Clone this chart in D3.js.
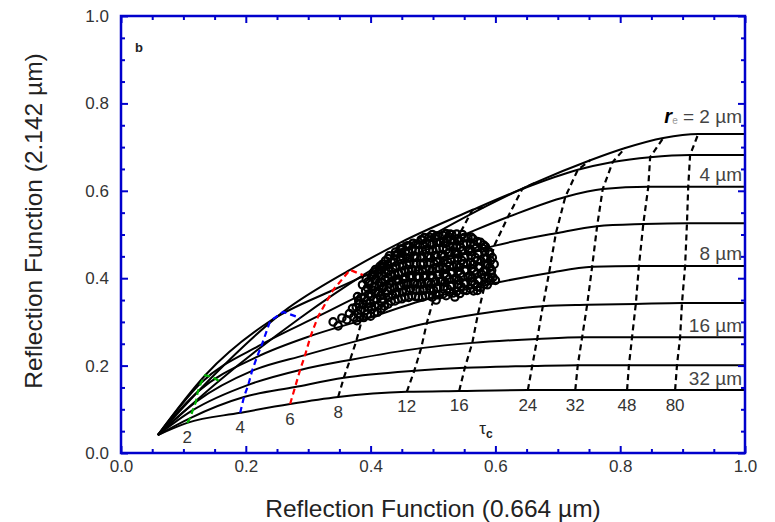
<!DOCTYPE html>
<html>
<head>
<meta charset="utf-8">
<script src="https://cdn.jsdelivr.net/npm/d3@7"></script>
<style>
  html, body { margin: 0; padding: 0; background: #fff; }
  svg { display: block; font-family: "Liberation Sans", Arial, sans-serif; }
</style>
</head>
<body>
<script>
// Optical thickness values along each effective-radius curve (0 = curve origin, 100 = plateau to frame)
const tauGrid = [0, 2, 4, 6, 8, 12, 16, 24, 32, 48, 80, 100];
const tauLabels = [2, 4, 6, 8, 12, 16, 24, 32, 48, 80];
// Effective radii (µm), one curve each
const radii = [2, 3, 4, 6, 8, 12, 16, 24, 32];
const radiusLabels = [2, 4, 8, 16, 32];

// Reflection function at 0.664 µm, rows follow radii, columns follow tauGrid
const r066 = [
  [0.059, 0.157, 0.287, 0.388, 0.471, 0.583, 0.663, 0.752, 0.808, 0.869, 0.925, 1.0],
  [0.059, 0.146, 0.260, 0.367, 0.447, 0.563, 0.643, 0.732, 0.788, 0.848, 0.912, 1.0],
  [0.059, 0.135, 0.239, 0.340, 0.423, 0.540, 0.620, 0.712, 0.772, 0.845, 0.909, 1.0],
  [0.059, 0.128, 0.226, 0.316, 0.399, 0.516, 0.598, 0.697, 0.763, 0.837, 0.907, 1.0],
  [0.059, 0.123, 0.218, 0.304, 0.386, 0.502, 0.583, 0.686, 0.755, 0.830, 0.904, 1.0],
  [0.059, 0.120, 0.210, 0.295, 0.377, 0.490, 0.572, 0.676, 0.747, 0.825, 0.899, 1.0],
  [0.059, 0.115, 0.204, 0.287, 0.367, 0.481, 0.563, 0.667, 0.739, 0.819, 0.896, 1.0],
  [0.059, 0.111, 0.197, 0.279, 0.357, 0.470, 0.551, 0.659, 0.732, 0.814, 0.891, 1.0],
  [0.059, 0.106, 0.191, 0.271, 0.348, 0.458, 0.542, 0.652, 0.728, 0.811, 0.888, 1.0]
];

// Reflection function at 2.142 µm, same layout
const r214 = [
  [0.041, 0.165, 0.309, 0.407, 0.476, 0.563, 0.618, 0.670, 0.698, 0.721, 0.730, 0.730],
  [0.041, 0.174, 0.323, 0.419, 0.481, 0.556, 0.604, 0.648, 0.666, 0.677, 0.682, 0.682],
  [0.041, 0.178, 0.302, 0.373, 0.426, 0.494, 0.540, 0.586, 0.604, 0.609, 0.609, 0.609],
  [0.041, 0.160, 0.249, 0.313, 0.371, 0.439, 0.474, 0.503, 0.519, 0.524, 0.526, 0.526],
  [0.041, 0.140, 0.220, 0.268, 0.304, 0.357, 0.384, 0.412, 0.426, 0.428, 0.428, 0.428],
  [0.041, 0.117, 0.188, 0.224, 0.256, 0.297, 0.318, 0.336, 0.339, 0.341, 0.343, 0.343],
  [0.041, 0.098, 0.156, 0.190, 0.213, 0.240, 0.252, 0.261, 0.265, 0.265, 0.265, 0.265],
  [0.041, 0.080, 0.128, 0.151, 0.172, 0.188, 0.195, 0.199, 0.201, 0.201, 0.201, 0.201],
  [0.041, 0.069, 0.092, 0.112, 0.128, 0.140, 0.142, 0.144, 0.144, 0.144, 0.144, 0.144]
];

// Measured pixels: [R(0.664 µm), R(2.142 µm)]
const observed = [
  [0.340,0.300],[0.348,0.291],[0.354,0.309],[0.362,0.305],[0.366,0.319],[0.371,0.331],[0.373,0.311],
  [0.378,0.303],[0.380,0.318],[0.377,0.334],[0.381,0.348],[0.379,0.358],
  [0.389,0.310],[0.391,0.326],[0.388,0.341],[0.390,0.355],[0.392,0.371],[0.387,0.385],[0.393,0.398],
  [0.400,0.313],[0.402,0.329],[0.399,0.343],[0.401,0.359],[0.403,0.373],[0.398,0.389],[0.402,0.403],[0.405,0.414],
  [0.411,0.322],[0.413,0.338],[0.410,0.352],[0.412,0.368],[0.414,0.382],[0.409,0.397],[0.412,0.412],[0.415,0.427],
  [0.422,0.336],[0.420,0.352],[0.424,0.366],[0.421,0.381],[0.423,0.397],[0.425,0.411],[0.420,0.426],[0.424,0.440],
  [0.433,0.347],[0.435,0.362],[0.431,0.378],[0.434,0.392],[0.432,0.408],[0.436,0.422],[0.433,0.437],[0.430,0.451],
  [0.444,0.352],[0.442,0.368],[0.446,0.382],[0.443,0.398],[0.445,0.412],[0.441,0.428],[0.447,0.442],[0.444,0.457],[0.449,0.465],
  [0.455,0.357],[0.457,0.372],[0.453,0.388],[0.456,0.402],[0.454,0.418],[0.458,0.432],[0.452,0.447],[0.456,0.462],[0.459,0.474],
  [0.466,0.360],[0.464,0.376],[0.468,0.390],[0.465,0.406],[0.467,0.420],[0.463,0.436],[0.469,0.450],[0.466,0.466],[0.468,0.480],
  [0.477,0.357],[0.479,0.373],[0.475,0.387],[0.478,0.403],[0.476,0.417],[0.480,0.433],[0.474,0.447],[0.478,0.463],[0.476,0.477],[0.481,0.488],
  [0.488,0.360],[0.486,0.375],[0.490,0.391],[0.487,0.405],[0.489,0.421],[0.485,0.435],[0.491,0.451],[0.488,0.465],[0.490,0.480],[0.486,0.493],
  [0.499,0.357],[0.501,0.373],[0.497,0.387],[0.500,0.403],[0.498,0.417],[0.502,0.433],[0.496,0.447],[0.500,0.463],[0.498,0.477],[0.503,0.492],[0.499,0.500],
  [0.510,0.362],[0.508,0.378],[0.512,0.392],[0.509,0.408],[0.511,0.422],[0.507,0.438],[0.513,0.452],[0.510,0.468],[0.512,0.482],[0.508,0.497],
  [0.521,0.360],[0.523,0.376],[0.519,0.390],[0.522,0.406],[0.520,0.420],[0.524,0.436],[0.518,0.450],[0.522,0.466],[0.520,0.480],[0.525,0.495],[0.521,0.502],
  [0.532,0.366],[0.530,0.382],[0.534,0.396],[0.531,0.412],[0.533,0.426],[0.529,0.442],[0.535,0.456],[0.532,0.472],[0.534,0.486],[0.530,0.500],
  [0.543,0.365],[0.545,0.381],[0.541,0.395],[0.544,0.411],[0.542,0.425],[0.546,0.441],[0.540,0.455],[0.544,0.471],[0.542,0.485],[0.547,0.500],
  [0.554,0.372],[0.552,0.388],[0.556,0.402],[0.553,0.418],[0.555,0.432],[0.551,0.448],[0.557,0.462],[0.554,0.478],[0.556,0.492],
  [0.565,0.371],[0.567,0.387],[0.563,0.401],[0.566,0.417],[0.564,0.431],[0.568,0.447],[0.562,0.461],[0.566,0.477],[0.564,0.490],
  [0.576,0.379],[0.574,0.395],[0.578,0.409],[0.575,0.425],[0.577,0.439],[0.573,0.455],[0.579,0.469],[0.576,0.482],
  [0.587,0.385],[0.589,0.401],[0.585,0.415],[0.588,0.431],[0.586,0.445],[0.590,0.460],[0.584,0.472],
  [0.596,0.402],[0.594,0.418],[0.598,0.432],[0.595,0.447],
  [0.535,0.357],[0.505,0.350],[0.600,0.395],[0.571,0.372],
  [0.383,0.311],[0.384,0.327],[0.382,0.341],[0.385,0.356],
  [0.395,0.318],[0.396,0.334],[0.394,0.348],[0.397,0.364],[0.395,0.378],[0.396,0.392],
  [0.406,0.320],[0.407,0.336],[0.405,0.350],[0.408,0.366],[0.406,0.380],[0.407,0.396],[0.405,0.408],[0.408,0.420],
  [0.417,0.330],[0.418,0.346],[0.416,0.360],[0.419,0.376],[0.417,0.390],[0.418,0.406],[0.416,0.419],[0.419,0.432],
  [0.428,0.341],[0.429,0.357],[0.427,0.371],[0.430,0.387],[0.428,0.401],[0.429,0.417],[0.427,0.431],[0.428,0.445],
  [0.439,0.348],[0.440,0.364],[0.438,0.378],[0.441,0.394],[0.439,0.408],[0.440,0.424],[0.438,0.437],[0.439,0.452],[0.440,0.460],
  [0.450,0.353],[0.451,0.369],[0.449,0.383],[0.452,0.399],[0.450,0.413],[0.451,0.429],[0.449,0.443],[0.450,0.458],[0.451,0.468],
  [0.461,0.356],[0.462,0.372],[0.460,0.386],[0.463,0.402],[0.461,0.416],[0.462,0.432],[0.460,0.446],[0.461,0.461],[0.462,0.474],
  [0.472,0.358],[0.473,0.374],[0.471,0.388],[0.474,0.404],[0.472,0.418],[0.473,0.434],[0.471,0.448],[0.472,0.463],[0.473,0.478],
  [0.483,0.357],[0.484,0.373],[0.482,0.387],[0.485,0.403],[0.483,0.417],[0.484,0.433],[0.482,0.447],[0.483,0.462],[0.484,0.477],[0.483,0.488],
  [0.494,0.360],[0.495,0.376],[0.493,0.390],[0.496,0.406],[0.494,0.420],[0.495,0.436],[0.493,0.450],[0.494,0.465],[0.495,0.480],[0.494,0.494],
  [0.505,0.362],[0.506,0.378],[0.504,0.392],[0.507,0.408],[0.505,0.422],[0.506,0.438],[0.504,0.452],[0.505,0.467],[0.506,0.482],[0.505,0.496],
  [0.516,0.364],[0.517,0.380],[0.515,0.394],[0.518,0.410],[0.516,0.424],[0.517,0.440],[0.515,0.454],[0.516,0.469],[0.517,0.484],[0.516,0.498],
  [0.527,0.368],[0.528,0.384],[0.526,0.398],[0.529,0.414],[0.527,0.428],[0.528,0.444],[0.526,0.458],[0.527,0.473],[0.528,0.488],[0.527,0.501],
  [0.538,0.370],[0.539,0.386],[0.537,0.400],[0.540,0.416],[0.538,0.430],[0.539,0.446],[0.537,0.460],[0.538,0.475],[0.539,0.490],[0.538,0.501],
  [0.549,0.373],[0.550,0.389],[0.548,0.403],[0.551,0.419],[0.549,0.433],[0.550,0.449],[0.548,0.463],[0.549,0.478],[0.550,0.493],
  [0.560,0.376],[0.561,0.392],[0.559,0.406],[0.562,0.422],[0.560,0.436],[0.561,0.452],[0.559,0.466],[0.560,0.481],[0.561,0.494],
  [0.571,0.380],[0.572,0.396],[0.570,0.410],[0.573,0.426],[0.571,0.440],[0.572,0.456],[0.570,0.470],[0.571,0.484],
  [0.582,0.386],[0.583,0.402],[0.581,0.416],[0.584,0.432],[0.582,0.446],[0.583,0.461],[0.581,0.476],
  [0.592,0.395],[0.593,0.411],[0.591,0.425],[0.592,0.440],[0.591,0.455]
];

const xTicksMajor = [0, 0.2, 0.4, 0.6, 0.8, 1.0];
const yTicksMajor = [0, 0.2, 0.4, 0.6, 0.8, 1.0];
const minorTicks = [0.05, 0.1, 0.15, 0.25, 0.3, 0.35, 0.45, 0.5, 0.55, 0.65, 0.7, 0.75, 0.85, 0.9, 0.95];

const W = 775, H = 522;
const plotL = 121, plotR = 745, plotT = 16, plotB = 453;
const frameColor = "#0000cc";
const textColor = "#333";

const x = d3.scaleLinear().domain([0, 1]).range([plotL, plotR]);
const y = d3.scaleLinear().domain([0, 1]).range([plotB, plotT]);

const svg = d3.select("body").append("svg").attr("width", W).attr("height", H);
svg.append("rect").attr("width", W).attr("height", H).attr("fill", "#fff");

svg.append("clipPath").attr("id", "plot-clip")
  .append("rect").attr("x", plotL).attr("y", plotT)
  .attr("width", plotR - plotL).attr("height", plotB - plotT);

const plot = svg.append("g").attr("clip-path", "url(#plot-clip)");

// Constant effective-radius curves
const curveLine = d3.line().x(d => x(d[0])).y(d => y(d[1])).curve(d3.curveMonotoneX);
radii.forEach((r, j) => {
  const pts = tauGrid.map((t, i) => [r066[j][i], r214[j][i]]);
  plot.append("path").attr("d", curveLine(pts))
    .attr("fill", "none").attr("stroke", "#000").attr("stroke-width", 2);
});

// Constant optical-thickness lines (dashed)
const tauColor = t => t === 2 ? "#00b000" : t === 4 ? "#0000ff" : t === 6 ? "#ff0000" : "#000";
const tauLine = d3.line().x(d => x(d[0])).y(d => y(d[1]));
tauLabels.forEach(t => {
  const i = tauGrid.indexOf(t);
  const pts = radii.map((r, j) => [r066[j][i], r214[j][i]]).reverse();
  plot.append("path").attr("d", tauLine(pts))
    .attr("fill", "none").attr("stroke", tauColor(t))
    .attr("stroke-width", 2.2).attr("stroke-dasharray", "6,4");
});

// Measurements
plot.append("g").selectAll("circle").data(observed).join("circle")
  .attr("cx", d => x(d[0])).attr("cy", d => y(d[1])).attr("r", 3.7)
  .attr("fill", "none").attr("stroke", "#000").attr("stroke-width", 2.2);

// Optical thickness labels under the largest-radius curve
const lastR = radii.length - 1;
svg.append("g").selectAll("text").data(tauLabels).join("text")
  .attr("x", t => x(r066[lastR][tauGrid.indexOf(t)]))
  .attr("y", t => y(r214[lastR][tauGrid.indexOf(t)]) + 15)
  .attr("text-anchor", "middle").attr("dominant-baseline", "central")
  .attr("font-size", 17).attr("fill", textColor)
  .text(t => t);

// τc symbol
const tauSym = svg.append("text").attr("x", x(0.585)).attr("y", 434)
  .attr("text-anchor", "middle").attr("font-size", 17).attr("fill", "#222");
tauSym.append("tspan").text("τ");
tauSym.append("tspan").attr("font-size", 12).attr("font-weight", "bold").attr("dy", 4).text("c");

// Effective radius labels at the right edge
radiusLabels.forEach(r => {
  const j = radii.indexOf(r);
  const yy = y(r214[j][tauGrid.length - 1]);
  const t = svg.append("text").attr("x", plotR - 3).attr("text-anchor", "end")
    .attr("dominant-baseline", "central").attr("font-size", 19).attr("fill", "#444");
  if (r === 2) {
    t.attr("y", yy - 18);
    t.append("tspan").attr("font-weight", "bold").attr("font-style", "italic")
      .attr("fill", "#000").attr("font-size", 20).text("r");
    t.append("tspan").attr("font-size", 10).attr("dy", 4).attr("fill", "#999").text("e");
    t.append("tspan").attr("dy", -4).text(" = 2 µm");
  } else {
    t.attr("y", yy - 12).text(r + " µm");
  }
});

// Axes: major and minor ticks drawn inward on all four sides
function styleAxis(g) {
  g.select(".domain").remove();
  g.selectAll(".tick line").attr("stroke", frameColor).attr("stroke-width", 2);
  g.selectAll(".tick text").attr("fill", textColor).attr("font-size", 17)
    .attr("font-family", "Liberation Sans, Arial, sans-serif");
}
const fmt = d3.format(".1f");
svg.append("g").attr("transform", `translate(0,${plotB})`)
  .call(d3.axisBottom(x).tickValues(xTicksMajor).tickFormat(fmt).tickSize(-7).tickPadding(7)).call(styleAxis);
svg.append("g").attr("transform", `translate(0,${plotB})`)
  .call(d3.axisBottom(x).tickValues(minorTicks).tickFormat("").tickSize(-4)).call(styleAxis);
svg.append("g").attr("transform", `translate(0,${plotT})`)
  .call(d3.axisTop(x).tickValues(xTicksMajor).tickFormat("").tickSize(-7)).call(styleAxis);
svg.append("g").attr("transform", `translate(0,${plotT})`)
  .call(d3.axisTop(x).tickValues(minorTicks).tickFormat("").tickSize(-4)).call(styleAxis);
svg.append("g").attr("transform", `translate(${plotL},0)`)
  .call(d3.axisLeft(y).tickValues(yTicksMajor).tickFormat(fmt).tickSize(-7).tickPadding(12)).call(styleAxis);
svg.append("g").attr("transform", `translate(${plotL},0)`)
  .call(d3.axisLeft(y).tickValues(minorTicks).tickFormat("").tickSize(-4)).call(styleAxis);
svg.append("g").attr("transform", `translate(${plotR},0)`)
  .call(d3.axisRight(y).tickValues(yTicksMajor).tickFormat("").tickSize(-7)).call(styleAxis);
svg.append("g").attr("transform", `translate(${plotR},0)`)
  .call(d3.axisRight(y).tickValues(minorTicks).tickFormat("").tickSize(-4)).call(styleAxis);

// Frame
svg.append("rect").attr("x", plotL).attr("y", plotT)
  .attr("width", plotR - plotL).attr("height", plotB - plotT)
  .attr("fill", "none").attr("stroke", frameColor).attr("stroke-width", 2.5);

// Panel letter
svg.append("text").attr("x", 139).attr("y", 52).attr("text-anchor", "middle")
  .attr("font-size", 13).attr("font-weight", "bold").attr("fill", "#222").text("b");

// Axis titles
svg.append("text").attr("x", (plotL + plotR) / 2).attr("y", 517).attr("text-anchor", "middle")
  .attr("font-size", 24.5).attr("fill", "#222").text("Reflection Function (0.664 µm)");
svg.append("text").attr("transform", `translate(42,221) rotate(-90)`)
  .attr("text-anchor", "middle").attr("font-size", 24.5).attr("fill", "#222")
  .text("Reflection Function (2.142 µm)");
</script>
</body>
</html>
